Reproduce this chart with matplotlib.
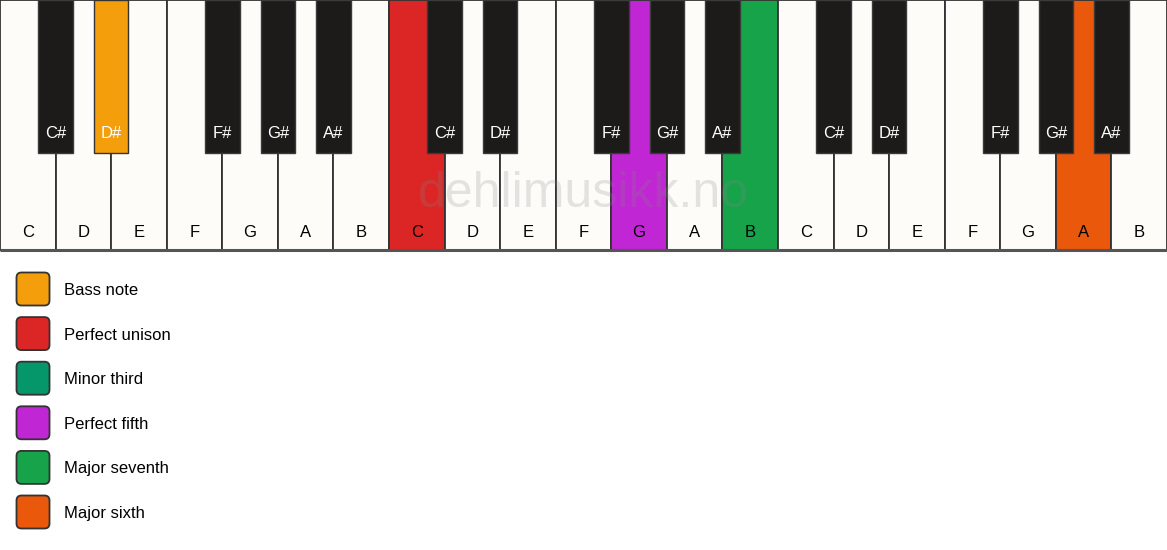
import matplotlib
matplotlib.use("Agg")
import matplotlib.pyplot as plt
from matplotlib.patches import Rectangle, FancyBboxPatch

plt.rcParams['font.family'] = ['Liberation Sans', 'DejaVu Sans']

# ---- data ----
octave_whites = ['C', 'D', 'E', 'F', 'G', 'A', 'B']
sharp_after = ['C', 'D', 'F', 'G', 'A']
n_octaves = 3

# highlighted keys: (note name, octave index, colour)
highlight_notes = ['D#', 'C', 'G', 'B', 'A']
highlight_octaves = [0, 1, 1, 1, 2]
highlight_colors = ['#F59E0B', '#DC2626', '#C026D3', '#16A34A', '#EA580C']

legend_labels = ['Bass note', 'Perfect unison', 'Minor third', 'Perfect fifth',
                 'Major seventh', 'Major sixth']
legend_colors = ['#F59E0B', '#DC2626', '#059669', '#C026D3', '#16A34A', '#EA580C']

watermark = 'dehlimusikk.no'

# ---- styling ----
W, H = 1167, 550
WHITE = '#FDFCF9'
BLACK = '#1C1B19'
EDGE = '#333333'
kb_h_px = 250
black_len = 0.612
black_w = 0.62

hl = {(n, o): c for n, o, c in zip(highlight_notes, highlight_octaves, highlight_colors)}

fig = plt.figure(figsize=(W / 100, H / 100), dpi=100)
fig.patch.set_facecolor('white')

ax = fig.add_axes([0, 1 - kb_h_px / H, 1, kb_h_px / H])
n_white = len(octave_whites) * n_octaves
ax.set_xlim(0, n_white)
ax.set_ylim(1, 0)
ax.axis('off')

# white keys
for o in range(n_octaves):
    for j, note in enumerate(octave_whites):
        i = o * len(octave_whites) + j
        col = hl.get((note, o), WHITE)
        ax.add_patch(Rectangle((i, 0), 1, 1, facecolor=col, edgecolor=EDGE,
                               linewidth=1.3, clip_on=False, zorder=1))
        ax.text(i + 0.5, 0.93, note, ha='center', va='center', fontsize=12,
                color='black', zorder=5)

# bottom border
ax.plot([0, n_white], [1, 1], color='#555555', linewidth=2.2, clip_on=False, zorder=3,
        solid_capstyle='butt')

# black keys
for o in range(n_octaves):
    for j, note in enumerate(octave_whites):
        if note not in sharp_after:
            continue
        i = o * len(octave_whites) + j
        name = note + '#'
        col = hl.get((name, o), BLACK)
        x = i + 1 - black_w / 2
        ec = '#3a3a3a' if col == BLACK else EDGE
        ax.add_patch(Rectangle((x, 0), black_w, black_len, facecolor=col,
                               edgecolor=ec, linewidth=1.0, clip_on=False, zorder=4))
        ax.text(i + 1, 0.535, name, ha='center', va='center', fontsize=12,
                color='white', zorder=5)

# watermark
ax.text(n_white / 2, 0.775, watermark, ha='center', va='center', fontsize=36,
        color='#888888', alpha=0.22, zorder=6)

# legend
lax = fig.add_axes([0, 0, 1, (H - kb_h_px) / H])
lax.set_xlim(0, W)
lax.set_ylim(H, kb_h_px)
lax.axis('off')
row0, step, sw = 289, 44.6, 33
for k, (lab, col) in enumerate(zip(legend_labels, legend_colors)):
    yc = row0 + k * step
    lax.add_patch(FancyBboxPatch((16.5 + 5, yc - sw / 2 + 5), sw - 10, sw - 10,
                                 boxstyle='round,pad=5', facecolor=col,
                                 edgecolor=EDGE, linewidth=1.3))
    lax.text(64, yc + 1.5, lab, ha='left', va='center', fontsize=12, color='black')

fig.savefig('out.png', dpi=100)
